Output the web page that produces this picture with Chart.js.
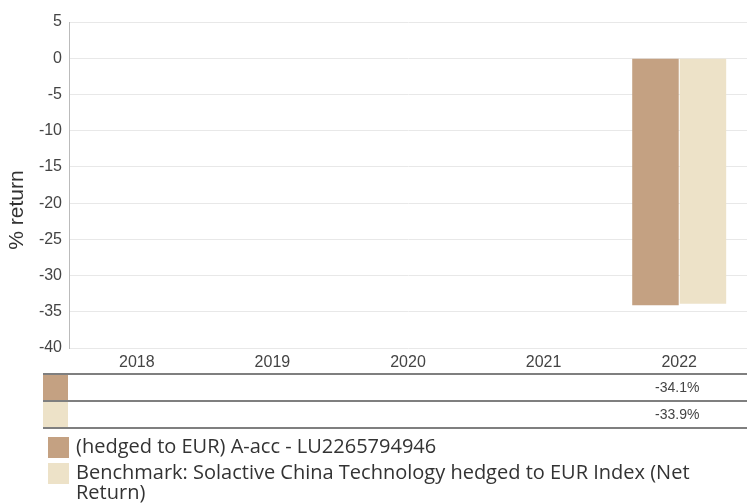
<!DOCTYPE html>
<html>
<head>
<meta charset="utf-8">
<script src="https://cdn.jsdelivr.net/npm/chart.js@4/dist/chart.umd.min.js"></script>
<style>
  html, body { margin: 0; padding: 0; background: #fff; }
  .wrap { position: relative; width: 747px; height: 504px; overflow: hidden; }
  canvas { position: absolute; left: 0; top: 0; }
  .legend { position: absolute; left: 48px; top: 436px; width: 660px; font-family: "Open Sans", "Noto Sans", sans-serif; font-size: 20px; color: #333; }
  .legend-item { position: relative; padding-left: 28px; line-height: 20px; margin-bottom: 6px; }
  .legend-item span.box { position: absolute; left: 0; top: 1px; width: 21px; height: 21px; }
</style>
</head>
<body>
<div class="wrap">
  <canvas id="chart" width="747" height="504"></canvas>
  <div class="legend" id="legend"></div>
</div>
<script>
// data
const years = ['2018', '2019', '2020', '2021', '2022']
const fundValues = [null, null, null, null, -34.1]
const benchValues = [null, null, null, null, -33.9]
const seriesNames = [
    '(hedged to EUR) A-acc - LU2265794946',
    'Benchmark: Solactive China Technology hedged to EUR Index (Net Return)'
]
const seriesColors = ['#c4a182', '#ede2c8']
const axisTitle = '% return'

const arial = '"Liberation Sans", Arial, sans-serif'

// start: table under the axis + y title
const tablePlugin = {
    id: 'returnTable',
    afterDraw(chart) {
        const ctx = chart.ctx
        const x = chart.scales.x
        const rows = [fundValues, benchValues]
        const lineY = [374, 401, 428]
        ctx.save()
        rows.forEach(function (row, i) {
            ctx.fillStyle = seriesColors[i]
            ctx.fillRect(43, lineY[i] + 1, 25, lineY[i + 1] - lineY[i] - 2)
            ctx.fillStyle = '#444'
            ctx.font = '14px ' + arial
            ctx.textAlign = 'center'
            ctx.textBaseline = 'middle'
            row.forEach(function (v, j) {
                if (v === null) return
                ctx.fillText(v.toFixed(1) + '%', x.getPixelForValue(j) - 2, (lineY[i] + lineY[i + 1]) / 2 + 1)
            })
        })
        ctx.strokeStyle = '#555'
        ctx.lineWidth = 1.5
        lineY.forEach(function (y) {
            ctx.beginPath()
            ctx.moveTo(43, y)
            ctx.lineTo(747, y)
            ctx.stroke()
        })
        // y axis title
        ctx.translate(17, 210)
        ctx.rotate(-Math.PI / 2)
        ctx.fillStyle = '#333'
        ctx.font = '21px ' + arial
        ctx.textAlign = 'center'
        ctx.textBaseline = 'middle'
        ctx.fillText(axisTitle, 0, 0)
        ctx.restore()
    }
}
// end: table

const ctx = document.getElementById('chart').getContext('2d')
new Chart(ctx, {
    type: 'bar',
    data: {
        labels: years,
        datasets: [
            { label: seriesNames[0], data: fundValues, backgroundColor: seriesColors[0] },
            { label: seriesNames[1], data: benchValues, backgroundColor: seriesColors[1] }
        ]
    },
    options: {
        responsive: false,
        animation: false,
        layout: { padding: { top: 22, right: 0, bottom: 130, left: 0 } },
        datasets: { bar: { categoryPercentage: 0.7, barPercentage: 0.98, borderWidth: 0 } },
        plugins: { legend: { display: false }, tooltip: { enabled: false } },
        scales: {
            x: {
                grid: { display: false, drawTicks: false },
                border: { display: false },
                ticks: { color: '#444', font: { family: arial, size: 16 }, padding: 5 },
                afterFit(scale) { scale.height = 26 }
            },
            y: {
                min: -40,
                max: 5,
                ticks: { stepSize: 5, color: '#444', font: { family: arial, size: 16 }, padding: 7 },
                grid: { color: '#e8e8e8', drawTicks: false },
                border: { color: '#bbb' },
                afterFit(scale) { scale.width = 69 }
            }
        }
    },
    plugins: [tablePlugin]
})

// legend built from the series
const legend = document.getElementById('legend')
seriesNames.forEach(function (name, i) {
    const item = document.createElement('div')
    item.className = 'legend-item'
    const box = document.createElement('span')
    box.className = 'box'
    box.style.background = seriesColors[i]
    item.appendChild(box)
    item.appendChild(document.createTextNode(name))
    legend.appendChild(item)
})
</script>
</body>
</html>
